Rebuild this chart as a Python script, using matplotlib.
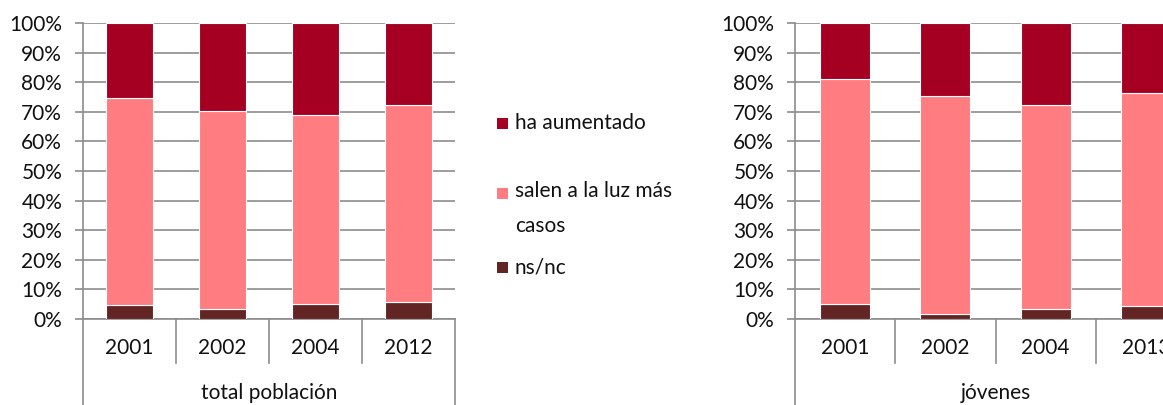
import matplotlib.pyplot as plt
from matplotlib.patches import Rectangle

plt.rcParams['font.family'] = ['Lato', 'DejaVu Sans']

series = ["ha aumentado", "salen a la luz más\ncasos", "ns/nc"]
colors = ["#A50021", "#FF7C80", "#632523"]

years_total = ["2001", "2002", "2004", "2012"]
total_nsnc = [4.7, 3.4, 5.2, 5.6]
total_salen = [70.1, 66.9, 63.7, 66.7]
total_aumentado = [25.2, 29.7, 31.1, 27.7]

years_jov = ["2001", "2002", "2004", "2013"]
jov_nsnc = [5.2, 1.8, 3.4, 4.3]
jov_salen = [75.9, 73.4, 68.9, 72.1]
jov_aumentado = [18.9, 24.8, 27.7, 23.6]

grid_col = "#8c8c8c"
txt_col = "#111111"
fs = 15


def draw(ax, years, nsnc, salen, aum, group):
    x = range(len(years))
    ax.bar(x, nsnc, 0.5, color=colors[2], edgecolor="white", linewidth=0.8, zorder=3)
    ax.bar(x, salen, 0.5, bottom=nsnc, color=colors[1], edgecolor="white", linewidth=0.8, zorder=3)
    bottom2 = [a + b for a, b in zip(nsnc, salen)]
    ax.bar(x, aum, 0.5, bottom=bottom2, color=colors[0], edgecolor="white", linewidth=0.8, zorder=3)
    ax.set_ylim(0, 100)
    ax.set_xlim(-0.5, len(years) - 0.5)
    ax.set_yticks(range(0, 101, 10))
    ax.set_yticklabels([f"{v}%" for v in range(0, 101, 10)], fontsize=fs, color=txt_col)
    ax.yaxis.grid(True, color=grid_col, linewidth=1.2, zorder=0)
    ax.set_axisbelow(True)
    for s in ["top", "right"]:
        ax.spines[s].set_visible(False)
    ax.spines["left"].set_color(grid_col)
    ax.spines["bottom"].set_color(grid_col)
    ax.spines["left"].set_linewidth(1.2)
    ax.spines["bottom"].set_linewidth(1.2)
    ax.tick_params(axis="y", length=6, color=grid_col, width=1.2, pad=9)
    ax.set_xticks([])
    tr = ax.get_xaxis_transform()
    n = len(years)
    for i in range(n + 1):
        low = -0.3 if i in (0, n) else -0.148
        ax.plot([i - 0.5, i - 0.5], [0, low], transform=tr, color=grid_col,
                linewidth=1.2, clip_on=False)
    for i, y in enumerate(years):
        ax.text(i, -0.098, y, transform=tr, ha="center", va="center",
                fontsize=fs, color=txt_col)
    ax.text((n - 1) / 2, -0.25, group, transform=tr, ha="center", va="center",
            fontsize=fs, color=txt_col)


fig = plt.figure(figsize=(11.63, 4.05), dpi=100)
ax1 = fig.add_axes([0.0714, 0.2123, 0.3199, 0.7309])
ax2 = fig.add_axes([0.6836, 0.2123, 0.3448, 0.7309])

draw(ax1, years_total, total_nsnc, total_salen, total_aumentado, "total población")
draw(ax2, years_jov, jov_nsnc, jov_salen, jov_aumentado, "jóvenes")

# legend
W, H = 1163, 405
leg_y = [123, 193, 267]
for lab, col, yc in zip(series, colors, leg_y):
    fig.add_artist(Rectangle((497 / W, 1 - (yc + 6) / H), 11 / W, 11 / H,
                             transform=fig.transFigure, facecolor=col,
                             edgecolor="none"))
    fig.text(515 / W, 1 - yc / H, lab, ha="left", va="top" if "\n" in lab else "center",
             fontsize=fs, color=txt_col, linespacing=1.95)
# adjust multiline label so its first line lines up with the swatch
fig.texts[1].set_y(1 - (193 - 12) / H)

fig.savefig("out.png", dpi=100)
